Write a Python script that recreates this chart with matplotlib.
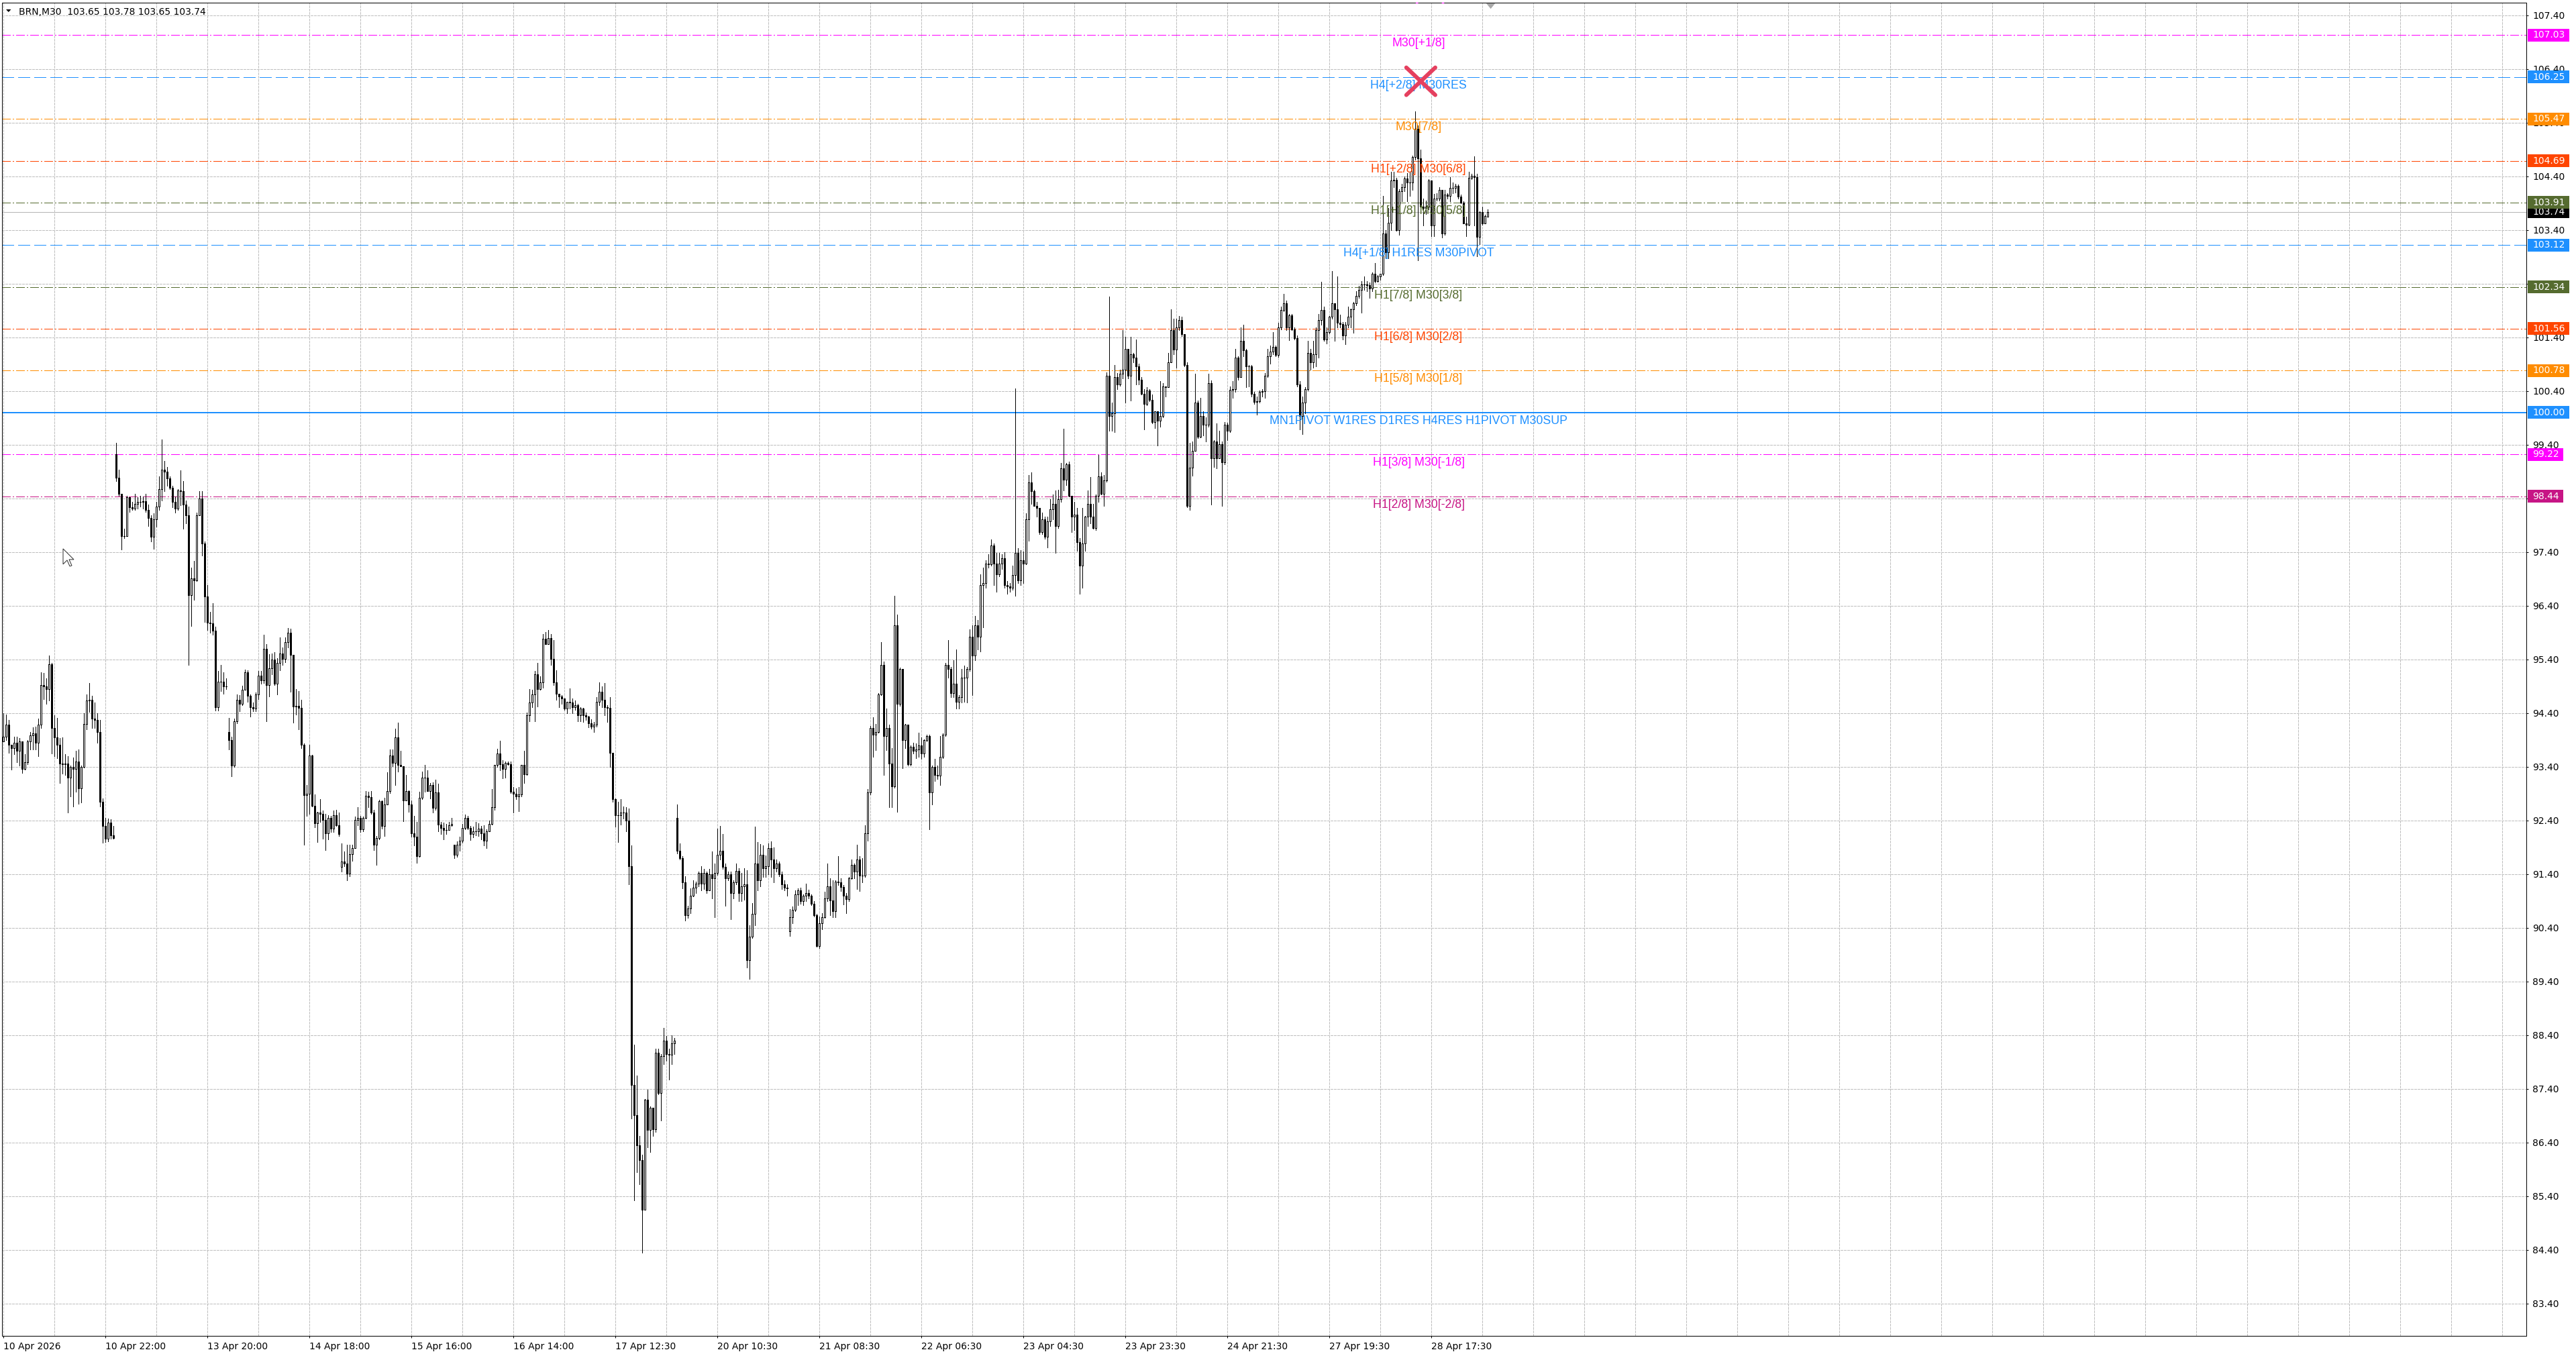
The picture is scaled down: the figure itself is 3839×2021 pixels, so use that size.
import numpy as np
import matplotlib
matplotlib.use("Agg")
import matplotlib.pyplot as plt
from matplotlib.patches import Polygon, Rectangle
from matplotlib.transforms import blended_transform_factory

plt.rcParams['lines.scale_dashes'] = False
plt.rcParams['font.family'] = ['DejaVu Sans']

W, H = 3839, 2021
PX = 0.72  # one pixel in points at dpi 100

# ---- BRN M30 candles ----
first_open = 93.87
gap_opens = {42: 99.22, 84: 94.04, 126: 91.53, 168: 91.95, 251: 92.45, 293: 90.33, 553: 103.65}

closes = [
    93.96, 94.18, 93.81, 93.74, 93.84, 93.69, 93.87, 93.36, 93.48, 93.87,
    93.98, 94.02, 93.84, 94.18, 94.92, 94.90, 94.84, 95.31, 94.12, 93.95,
    93.81, 93.46, 93.45, 93.46, 93.19, 93.39, 93.36, 93.50, 92.99, 93.39,
    94.19, 94.63, 94.65, 94.30, 94.27, 94.04, 92.75, 92.29, 92.06, 92.36,
    92.12, 92.07, 98.79, 98.48, 97.70, 97.70, 98.42, 98.24, 98.21, 98.30,
    98.33, 98.34, 98.35, 98.18, 98.04, 97.69, 98.01, 98.25, 98.57, 98.93,
    98.90, 98.77, 98.60, 98.33, 98.21, 98.55, 98.53, 98.29, 98.09, 96.60,
    96.91, 96.87, 98.09, 98.40, 97.56, 96.57, 96.09, 96.07, 95.93, 94.51,
    94.98, 94.98, 94.90, 94.90, 93.90, 93.42, 94.24, 94.65, 94.57, 94.83,
    95.16, 94.72, 94.51, 94.48, 94.75, 95.10, 95.01, 95.60, 94.92, 95.23,
    95.40, 94.95, 95.33, 95.51,
    95.41, 95.72, 95.90, 95.48, 94.52, 94.53, 94.50, 93.81, 92.87, 92.90,
    93.61, 92.67, 92.35, 92.55, 92.52, 92.41, 92.16, 92.44, 92.25, 92.50,
    92.31, 92.14, 91.63, 91.59, 91.41, 91.77, 91.88, 92.41, 92.45, 92.23,
    92.45, 92.86, 92.83, 92.55, 91.94, 92.07, 92.76, 92.30, 92.70, 92.95,
    93.61, 93.47, 93.94, 93.43, 93.41, 92.77, 92.95, 92.70, 92.16, 92.09,
    91.73, 92.82, 93.20, 93.20, 92.95, 93.06, 92.63, 92.92, 92.32, 92.26,
    92.22, 92.22, 92.31, 92.33, 91.76, 91.94, 92.02, 92.26, 92.45, 92.26,
    92.15, 92.19, 92.19, 92.25, 92.16, 92.02, 92.20, 92.33, 92.65, 93.43,
    93.65, 93.45, 93.36, 93.47, 93.45, 92.93, 92.89, 92.85, 92.88, 93.43,
    93.26, 94.36, 94.59, 94.75, 95.12, 94.85, 94.97, 95.78, 95.69, 95.80,
    95.41, 94.97, 94.76, 94.71, 94.67, 94.48, 94.61, 94.60, 94.51, 94.55,
    94.36, 94.48, 94.36, 94.33, 94.21, 94.15, 94.18, 94.61, 94.79, 94.65,
    94.51, 94.50, 93.66, 92.80, 92.49, 92.49, 92.55, 92.55, 92.39, 91.55,
    87.47, 86.91, 86.35, 86.07, 85.15, 87.19, 86.63, 87.04, 86.65, 88.07,
    87.32, 88.01, 88.30, 88.05, 88.03, 88.24, 88.30, 91.83, 91.70, 91.25,
    90.63, 90.76, 90.99, 91.15, 91.22, 91.42, 91.22, 91.42, 91.09, 91.40,
    91.32, 91.42, 91.76, 91.83, 91.53, 91.32, 91.40, 91.04, 91.25, 91.46,
    91.04, 91.17, 91.21, 89.79, 90.23, 90.66, 91.59, 91.28, 91.76, 91.51,
    91.55, 91.88, 91.67, 91.51, 91.60, 91.40, 91.21, 91.15, 91.13, 90.59,
    90.73, 91.02, 91.09, 90.89, 90.99, 91.05, 90.99, 90.84, 90.63, 90.06,
    90.48, 90.59, 90.94, 91.17,
    90.91, 90.71, 91.26, 91.24, 91.16, 90.99, 90.93, 91.32, 91.57, 91.45,
    91.67, 91.37, 91.37, 92.16, 92.92, 94.12, 93.99, 94.05, 94.75, 95.30,
    93.97, 94.12, 93.46, 93.03, 96.04, 94.57, 95.22, 93.89, 94.18, 93.44,
    93.77, 93.69, 93.72, 93.79, 93.64, 93.89, 93.97, 92.92, 93.39, 93.25,
    93.23, 93.58, 93.99, 95.30, 95.22, 94.77, 94.94, 94.61, 94.69, 95.06,
    95.06, 95.22, 95.82, 95.47, 96.04, 95.82, 96.78, 96.82, 97.19, 97.17,
    97.52, 97.19, 96.99, 97.19, 97.28, 96.78, 96.76, 96.74, 96.97, 97.38,
    96.87, 97.25, 97.19, 98.01, 98.70, 98.53, 98.26, 98.22, 97.77, 98.01,
    97.69, 97.97, 98.20, 98.30, 97.88, 98.39, 98.96, 98.75, 99.03, 98.45,
    98.06, 98.10, 97.58, 97.15, 97.56, 98.06, 98.30, 98.06, 97.85, 98.45,
    98.81, 98.48, 98.73, 100.68, 99.94,
    99.99, 100.66, 100.52, 100.72, 100.80, 101.19, 100.69, 101.08, 101.02, 100.86,
    100.61, 100.35, 100.16, 100.41, 100.24, 99.82, 100.02, 99.85, 99.94, 100.48,
    100.47, 100.94, 101.53, 101.17, 101.58, 101.72, 101.46, 100.89, 98.26, 98.97,
    99.29, 100.19, 99.55, 99.94, 99.77, 99.77, 100.55, 99.15, 99.46, 99.15,
    99.41, 99.07, 99.77, 99.66, 100.42, 100.44, 101.02, 100.66, 101.33, 101.16,
    100.86, 100.86, 100.35, 100.20, 100.21, 100.38, 100.40, 100.69, 101.05, 101.14,
    101.22, 101.07, 101.58, 101.91, 102.03, 101.58, 101.81, 101.55, 101.39, 100.52,
    99.94, 100.19, 100.44, 101.11, 100.94, 101.08, 101.53, 101.72, 101.91, 101.36,
    101.50, 101.78, 102.03, 101.92, 101.67, 101.65, 101.43, 101.63, 101.78, 101.92,
    102.03, 102.17, 102.28, 102.39, 102.39, 102.37, 102.31, 102.58, 102.45, 102.53,
    102.58, 103.34, 102.98, 103.54, 104.32, 104.33, 103.40, 104.12, 104.20, 104.36,
    104.29, 104.29, 104.76, 105.29, 104.74, 103.84, 103.81, 103.84, 104.32, 103.48,
    103.98, 103.99, 104.15, 103.34, 104.06, 104.04,
    104.19, 104.19, 104.22, 104.02, 103.91, 103.52, 103.50, 104.37, 104.41, 104.39,
    103.27, 103.73, 103.52, 103.66, 103.74,
]

highs = [
    94.39, 94.37, 94.27, 93.81, 93.96, 93.96, 93.93, 93.87, 93.63, 93.90,
    94.05, 94.13, 94.15, 94.30, 95.16, 95.15, 95.05, 95.47, 95.33, 94.36,
    94.31, 93.93, 93.95, 93.63, 93.60, 93.42, 93.57, 93.70, 93.72, 93.42,
    94.39, 94.75, 94.96, 94.72, 94.60, 94.39, 94.27, 92.81, 92.45, 92.43,
    92.42, 92.30, 99.44, 98.93, 98.48, 97.84, 98.45, 98.42, 98.33, 98.49,
    98.42, 98.45, 98.43, 98.48, 98.29, 98.09, 98.12, 98.33, 98.81, 99.50,
    99.10, 98.99, 98.81, 98.63, 98.43, 98.57, 98.92, 98.72, 98.36, 98.25,
    97.11, 97.24, 98.13, 98.54, 98.54, 97.60, 96.78, 96.28, 96.45, 96.01,
    95.18, 95.30, 95.16, 95.05, 94.31, 93.96, 94.30, 94.75, 94.73, 94.91,
    95.21, 95.19, 94.75, 94.59, 94.78, 95.18, 95.18, 95.86, 95.69, 95.50,
    95.51, 95.54, 95.42, 95.81,
    95.62, 95.81, 95.98, 95.97, 95.48, 94.85, 94.81, 94.65, 93.83, 93.06,
    93.81, 93.62, 92.88, 92.56, 92.79, 92.58, 92.52, 92.50, 92.48, 92.58,
    92.60, 92.54, 91.97, 91.82, 91.95, 91.94, 91.94, 92.47, 92.65, 92.48,
    92.47, 92.95, 92.93, 92.95, 92.59, 92.11, 92.78, 92.77, 92.82, 93.29,
    93.72, 93.72, 94.11, 94.22, 93.69, 93.41, 93.25, 92.96, 92.77, 92.48,
    92.37, 92.93, 93.31, 93.43, 93.33, 93.10, 93.11, 93.16, 93.08, 92.37,
    92.36, 92.33, 92.37, 92.44, 91.95, 92.01, 92.09, 92.33, 92.51, 92.48,
    92.29, 92.28, 92.37, 92.34, 92.30, 92.31, 92.23, 92.39, 92.98, 93.43,
    93.73, 93.88, 93.52, 93.50, 93.50, 93.50, 93.02, 93.00, 93.02, 93.43,
    93.69, 94.41, 94.85, 94.83, 95.18, 95.34, 95.08, 95.87, 95.91, 95.95,
    95.87, 95.76, 95.19, 94.76, 94.73, 94.66, 94.61, 94.86, 94.67, 94.63,
    94.57, 94.51, 94.50, 94.41, 94.34, 94.28, 94.23, 94.69, 94.97, 94.89,
    94.96, 94.54, 94.69, 93.66, 92.81, 92.74, 92.80, 92.66, 92.65, 92.62,
    91.93, 88.22, 87.65, 86.52, 86.17, 87.21, 87.38, 87.07, 87.04, 88.15,
    88.15, 88.05, 88.53, 88.38, 88.15, 88.39, 88.34, 92.70, 91.97, 91.73,
    91.36, 90.81, 91.13, 91.28, 91.26, 91.44, 91.55, 91.50, 91.45, 91.50,
    91.82, 91.59, 92.24, 92.29, 92.14, 91.59, 91.44, 91.44, 91.28, 91.59,
    91.51, 91.42, 91.51, 91.47, 90.44, 90.86, 92.28, 91.99, 91.96, 91.93,
    91.74, 91.97, 92.01, 91.90, 91.67, 91.63, 91.44, 91.28, 91.21, 90.75,
    90.79, 91.09, 91.13, 91.15, 91.02, 91.22, 91.11, 91.02, 90.90, 90.66,
    90.61, 90.67, 91.07, 91.60,
    91.32, 91.28, 91.28, 91.73, 91.32, 91.20, 91.04, 91.34, 91.67, 91.59,
    91.94, 91.73, 91.69, 92.31, 92.98, 94.16, 94.32, 94.20, 94.77, 95.72,
    95.36, 94.48, 94.18, 93.75, 96.58, 96.23, 95.25, 94.77, 94.20, 94.18,
    93.80, 93.85, 93.83, 94.03, 93.95, 93.91, 93.99, 93.99, 93.42, 93.54,
    93.42, 93.97, 94.02, 95.33, 95.76, 95.26, 95.39, 95.59, 94.73, 95.22,
    95.28, 95.26, 95.96, 96.04, 96.21, 96.13, 96.99, 97.11, 97.25, 97.36,
    97.63, 97.56, 97.38, 97.38, 97.36, 97.40, 96.86, 96.82, 97.15, 100.45,
    97.47, 97.44, 97.41, 98.12, 98.84, 98.89, 98.56, 98.34, 98.22, 98.14,
    98.06, 98.06, 98.39, 98.47, 98.55, 98.56, 99.06, 99.70, 99.06, 99.08,
    98.45, 98.34, 98.22, 97.66, 98.22, 98.07, 98.55, 98.80, 98.30, 98.47,
    99.21, 98.89, 98.84, 100.75, 102.16,
    100.19, 100.89, 100.74, 100.80, 101.53, 101.41, 100.86, 101.41, 101.11, 101.36,
    100.91, 100.66, 100.44, 100.47, 100.44, 100.33, 100.02, 100.02, 100.58, 100.55,
    100.49, 101.11, 101.92, 101.75, 101.75, 101.80, 101.78, 101.44, 100.94, 99.44,
    99.46, 100.72, 100.22, 100.27, 100.02, 99.91, 100.72, 100.60, 99.49, 99.80,
    99.66, 99.46, 99.82, 99.81, 100.48, 100.58, 101.19, 101.05, 101.58, 101.63,
    101.19, 100.89, 100.89, 100.38, 100.30, 100.41, 100.44, 100.73, 101.18, 101.25,
    101.50, 101.25, 101.67, 101.97, 102.21, 102.09, 101.83, 101.83, 101.58, 101.43,
    100.58, 100.30, 100.47, 101.33, 101.19, 101.33, 101.58, 101.83, 102.43, 101.97,
    101.58, 101.80, 102.63, 102.03, 102.54, 101.82, 101.68, 101.69, 101.97, 101.94,
    102.06, 102.26, 102.36, 102.45, 102.53, 102.45, 102.42, 102.61, 102.78, 102.56,
    102.59, 104.04, 103.40, 103.81, 104.48, 104.49, 104.37, 104.16, 104.26, 104.40,
    104.46, 104.48, 104.79, 105.61, 105.35, 104.90, 103.98, 103.95, 104.35, 104.32,
    104.07, 104.09, 104.20, 103.90, 104.15, 104.09,
    104.39, 104.29, 104.26, 104.25, 104.06, 103.93, 103.65, 104.48, 104.45, 104.77,
    104.45, 103.75, 103.83, 103.69, 103.78,
]

lows = [
    93.87, 93.90, 93.66, 93.34, 93.63, 93.48, 93.42, 93.28, 93.34, 93.45,
    93.72, 93.72, 93.72, 93.60, 94.12, 94.66, 94.57, 94.63, 93.64, 93.60,
    93.56, 93.09, 93.27, 93.24, 92.55, 92.84, 92.66, 92.93, 92.71, 92.73,
    93.38, 94.09, 94.42, 94.12, 94.12, 93.84, 92.66, 91.98, 92.00, 92.01,
    92.06, 92.06, 98.72, 98.45, 97.45, 97.66, 97.75, 98.15, 98.18, 98.18,
    98.21, 98.25, 98.21, 98.15, 97.89, 97.60, 97.46, 97.87, 98.18, 98.36,
    98.54, 98.63, 98.57, 98.23, 98.13, 98.18, 98.27, 97.84, 97.93, 95.30,
    96.02, 96.51, 96.86, 98.09, 97.34, 96.10, 95.95, 95.90, 95.86, 94.45,
    94.45, 94.81, 94.76, 94.84, 93.72, 93.22, 93.40, 94.21, 94.43, 94.55,
    94.83, 94.61, 94.33, 94.43, 94.43, 94.66, 94.95, 94.96, 94.25, 94.71,
    95.12, 94.92, 94.75, 95.19,
    95.30, 95.35, 95.62, 94.79, 94.22, 94.37, 94.09, 93.75, 91.95, 92.48,
    92.52, 92.66, 92.27, 91.99, 92.37, 92.06, 91.85, 92.04, 92.18, 92.18,
    92.29, 92.11, 91.45, 91.54, 91.28, 91.36, 91.64, 91.88, 92.31, 92.18,
    92.19, 92.43, 92.64, 92.52, 91.85, 91.57, 92.05, 92.25, 92.11, 92.69,
    92.91, 93.41, 93.06, 93.31, 93.41, 92.38, 92.77, 92.56, 92.09, 91.93,
    91.61, 91.72, 92.79, 92.93, 92.94, 92.81, 92.54, 92.60, 92.20, 92.14,
    92.04, 92.14, 92.22, 92.30, 91.70, 91.72, 91.83, 91.98, 92.23, 92.23,
    92.03, 92.08, 92.12, 92.11, 92.04, 91.93, 91.88, 92.19, 92.32, 92.59,
    93.39, 93.33, 93.18, 93.20, 93.43, 92.91, 92.54, 92.79, 92.57, 92.85,
    93.10, 93.25, 94.25, 94.51, 94.25, 94.52, 94.83, 94.87, 95.68, 95.68,
    95.30, 94.92, 94.65, 94.51, 94.57, 94.46, 94.40, 94.48, 94.40, 94.46,
    94.25, 94.25, 94.23, 94.27, 94.13, 94.11, 94.05, 94.15, 94.54, 94.51,
    94.36, 94.23, 93.39, 92.74, 92.28, 91.99, 92.32, 92.43, 92.20, 91.21,
    86.85, 85.32, 85.85, 85.62, 84.34, 85.16, 86.31, 86.22, 86.52, 86.60,
    87.30, 86.81, 87.86, 87.92, 87.57, 87.86, 88.05, 91.78, 91.67, 91.13,
    90.53, 90.58, 90.67, 90.98, 91.05, 91.17, 91.09, 91.12, 91.04, 91.09,
    90.94, 90.59, 91.38, 91.67, 91.50, 90.81, 91.28, 90.56, 90.94, 91.21,
    90.90, 90.89, 90.92, 89.66, 89.45, 90.21, 90.44, 91.09, 91.17, 91.34,
    91.34, 91.40, 91.34, 91.25, 91.45, 91.36, 91.12, 91.09, 91.00, 90.25,
    90.48, 90.71, 90.82, 90.84, 90.82, 90.90, 90.94, 90.82, 90.61, 90.04,
    90.02, 90.37, 90.58, 90.90,
    90.63, 90.60, 90.60, 91.20, 91.08, 90.83, 90.67, 90.90, 91.31, 91.32,
    91.12, 91.08, 91.24, 91.34, 92.02, 92.88, 93.58, 93.71, 94.03, 94.73,
    93.25, 93.71, 92.64, 92.64, 93.01, 92.56, 94.53, 93.37, 93.75, 93.42,
    93.42, 93.64, 93.56, 93.58, 93.54, 93.58, 93.87, 92.23, 92.70, 93.13,
    93.17, 93.06, 93.56, 93.97, 95.06, 94.69, 94.69, 94.48, 94.48, 94.59,
    94.61, 94.59, 95.18, 94.73, 95.39, 95.58, 95.55, 96.00, 96.74, 97.11,
    97.15, 96.78, 96.66, 96.95, 97.09, 96.74, 96.62, 96.66, 96.70, 96.58,
    96.82, 96.78, 96.82, 97.17, 97.61, 98.30, 98.26, 98.06, 97.73, 97.73,
    97.65, 97.48, 97.89, 98.01, 97.38, 97.85, 98.34, 98.55, 98.65, 98.43,
    97.77, 97.81, 97.42, 96.62, 96.74, 97.42, 97.89, 97.93, 97.83, 97.81,
    98.34, 98.47, 98.26, 98.71, 99.66,
    99.66, 99.63, 100.44, 100.50, 100.63, 100.19, 100.63, 100.22, 100.94, 100.52,
    100.52, 100.33, 99.69, 100.13, 100.21, 99.80, 99.71, 99.38, 99.74, 99.91,
    100.30, 100.47, 100.94, 101.08, 100.83, 101.54, 101.42, 100.86, 98.23, 98.19,
    98.82, 99.29, 99.52, 99.53, 99.57, 99.46, 99.74, 98.29, 98.99, 98.96,
    99.18, 98.26, 99.04, 99.49, 99.64, 100.27, 100.38, 100.61, 100.94, 101.05,
    100.47, 100.49, 100.30, 100.16, 99.96, 100.19, 100.30, 100.27, 100.66, 100.91,
    101.08, 101.05, 101.04, 101.55, 101.89, 101.53, 101.35, 101.53, 101.36, 100.49,
    99.69, 99.60, 99.99, 100.41, 100.80, 100.83, 100.86, 101.02, 101.64, 101.33,
    101.29, 101.47, 101.75, 101.33, 101.58, 101.58, 101.36, 101.27, 101.59, 101.59,
    101.48, 102.00, 102.14, 101.86, 102.28, 102.26, 102.14, 102.26, 102.42, 102.43,
    102.47, 102.56, 102.87, 102.87, 103.40, 104.20, 103.38, 103.31, 103.93, 104.12,
    103.93, 104.04, 104.15, 104.71, 102.84, 103.81, 103.48, 103.70, 103.79, 103.28,
    103.28, 103.95, 103.95, 103.26, 103.31, 103.98,
    103.94, 104.08, 104.10, 103.98, 103.90, 103.52, 103.29, 103.48, 104.35, 103.48,
    102.91, 103.14, 103.50, 103.53, 103.65,
]

# x-axis labels, one every 38 bars
time_labels = ["10 Apr 2026", "10 Apr 22:00", "13 Apr 20:00", "14 Apr 18:00",
               "15 Apr 16:00", "16 Apr 14:00", "17 Apr 12:30", "20 Apr 10:30",
               "21 Apr 08:30", "22 Apr 06:30", "23 Apr 04:30", "23 Apr 23:30",
               "24 Apr 21:30", "27 Apr 19:30", "28 Apr 17:30"]
label_step = 38

# Murrey / pivot levels drawn by the indicator
level_prices = [107.03, 106.25, 105.47, 104.69, 103.91, 103.12,
                102.34, 101.56, 100.78, 100.00, 99.22, 98.44]
level_names = ["M30[+1/8]", "H4[+2/8] M30RES", "M30[7/8]", "H1[+2/8] M30[6/8]",
               "H1[+1/8] M30[5/8]", "H4[+1/8] H1RES M30PIVOT", "H1[7/8] M30[3/8]",
               "H1[6/8] M30[2/8]", "H1[5/8] M30[1/8]",
               "MN1PIVOT W1RES D1RES H4RES H1PIVOT M30SUP",
               "H1[3/8] M30[-1/8]", "H1[2/8] M30[-2/8]"]
level_colors = ['#FF00FF', '#1E90FF', '#FF8C00', '#FF4500', '#556B2F', '#1E90FF',
                '#556B2F', '#FF4500', '#FF8C00', '#1E90FF', '#FF00FF', '#C71585']
level_kinds = ['dashdot', 'dash', 'dashdot', 'dashdot', 'dashdot', 'dash',
               'dashdot', 'dashdot', 'dashdot', 'solid', 'dashdot', 'dashdot']
hidden_level = (107.81, "M30[+2/8]", '#FF00FF')   # above the visible range
bid = 103.74
header = "BRN,M30  103.65 103.78 103.65 103.74"

# ------------------------------------------------------------------
n = len(closes)
assert len(highs) == n and len(lows) == n, (n, len(highs), len(lows))

opens = [first_open] + closes[:-1]
for i, v in gap_opens.items():
    opens[i] = v

o = np.array(opens)
c = np.array(closes)
hi = np.maximum(np.array(highs), np.maximum(o, c))
lo = np.minimum(np.array(lows), np.minimum(o, c))
x = np.arange(n)

fig = plt.figure(figsize=(W / 100, H / 100), dpi=100, facecolor='white')
ax = fig.add_axes([3 / W, 30 / H, 3762 / W, 1987 / H])
ax.set_xlim(-0.5, 940.0)
ax.set_ylim(82.796, 107.634)

# grid
grid_style = dict(color='#C0C0C0', linewidth=PX, linestyle=(0, (3 * PX, 2 * PX)),
                  antialiased=False)
ax.set_axisbelow(True)
yt = np.round(83.40 + np.arange(25), 2)
ax.set_yticks(yt)
ax.set_yticklabels([f"{v:.2f}" for v in yt])
ax.set_xticks(np.arange(len(time_labels)) * label_step)
ax.set_xticklabels(time_labels)
ax.set_xticks(np.arange(19, 941, 19), minor=True)
ax.grid(True, which='both', **grid_style)

# level lines
dash_map = {
    'dashdot': (0, (12 * PX, 3 * PX, 2 * PX, 3 * PX)),
    'dash': (0, (18 * PX, 6 * PX)),
    'solid': '-',
}
for p, col, kind in zip(level_prices, level_colors, level_kinds):
    lw = 2 * PX if kind == 'solid' else PX
    ax.axhline(p, color=col, linewidth=lw, linestyle=dash_map[kind], zorder=2,
               antialiased=False)

ax.axhline(bid, color='#B4B4B4', linewidth=PX, zorder=2, antialiased=False)

# candles
ax.vlines(x, lo, hi, colors='black', linewidth=PX, zorder=3, antialiased=False)
up = c >= o
bottom = np.minimum(o, c)
height = np.abs(c - o)
ax.bar(x[up], height[up], bottom=bottom[up], width=0.5, facecolor='white',
       edgecolor='black', linewidth=PX, zorder=4, antialiased=False)
ax.bar(x[~up], height[~up], bottom=bottom[~up], width=0.5, facecolor='black',
       edgecolor='black', linewidth=PX, zorder=4, antialiased=False)

# level captions just under each line
label_x = 527.25
cap_off = 4 / 80
for p, name, col in zip(level_prices, level_names, level_colors):
    ax.text(label_x, p - cap_off, name, color=col, ha='center', va='top',
            fontsize=12.8, family='Liberation Sans', zorder=6)
# caption of the level above the window, only its lower edge shows
ax.text(label_x, hidden_level[0] + 0.02, hidden_level[1], color=hidden_level[2],
        ha='center', va='top', fontsize=12.8, family='Liberation Sans',
        zorder=6, clip_on=True)

# red cross marker near the top
cx, cy = 528.1, 106.17
ax.plot([cx - 5.4, cx + 5.4], [cy + 0.256, cy - 0.256], color='#E5405F',
        linewidth=6 * PX, solid_capstyle='round', zorder=7)
ax.plot([cx - 5.4, cx + 5.4], [cy - 0.256, cy + 0.256], color='#E5405F',
        linewidth=6 * PX, solid_capstyle='round', zorder=7)

# chart shift marker
ax.add_patch(Polygon([[552.5, 107.62], [555.8, 107.62], [554.15, 107.52]],
                     closed=True, facecolor='#A8A8A8', edgecolor='none', zorder=7))

# mouse pointer
tip_x, tip_y = 22.25, 97.46
arrow_px = [(0, 0), (0, 23), (6, 17), (10, 26), (13, 25), (9, 16), (16, 16)]
ax.add_patch(Polygon([[tip_x + a / 4, tip_y - b / 80] for a, b in arrow_px],
                     closed=True, facecolor='white', edgecolor='#303030',
                     linewidth=PX, zorder=8))

# axes styling
for s in ax.spines.values():
    s.set_color('black')
    s.set_linewidth(PX)
ax.yaxis.tick_right()
ax.tick_params(axis='y', which='major', length=3 * PX, width=PX, pad=6 * PX,
               labelsize=10, colors='black', right=True, left=False)
ax.tick_params(axis='x', which='major', length=3 * PX, width=PX, pad=6 * PX,
               labelsize=10, colors='black')
ax.tick_params(axis='x', which='minor', length=0)
for lbl in ax.get_xticklabels():
    lbl.set_ha('left')

# price boxes on the right scale
tr = blended_transform_factory(fig.transFigure, ax.transData)
box_h = 19 / 80


def price_box(p, col, z):
    txt = f"{p:.2f}"
    wpx = 62 if len(txt) > 5 else 53
    ax.add_patch(Rectangle((3767 / W, p - box_h / 2), wpx / W, box_h,
                           transform=tr, facecolor=col, edgecolor='none',
                           clip_on=False, zorder=z))
    ax.text(3774 / W, p, txt, transform=tr, color='white', fontsize=10,
            ha='left', va='center', clip_on=False, zorder=z + 0.5)


price_box(bid, 'black', 8)
for p, col in zip(level_prices, level_colors):
    price_box(p, col, 9)

# header in the top-left corner
fig.patches.append(Polygon([[9 / W, 1 - 14 / H], [16.5 / W, 1 - 14 / H],
                            [12.75 / W, 1 - 18 / H]], closed=True,
                           transform=fig.transFigure, facecolor='black',
                           edgecolor='none'))
fig.text(28 / W, 1 - 17.5 / H, header, fontsize=10, color='black',
         ha='left', va='center')

fig.savefig('out.png', dpi=100, facecolor='white')
